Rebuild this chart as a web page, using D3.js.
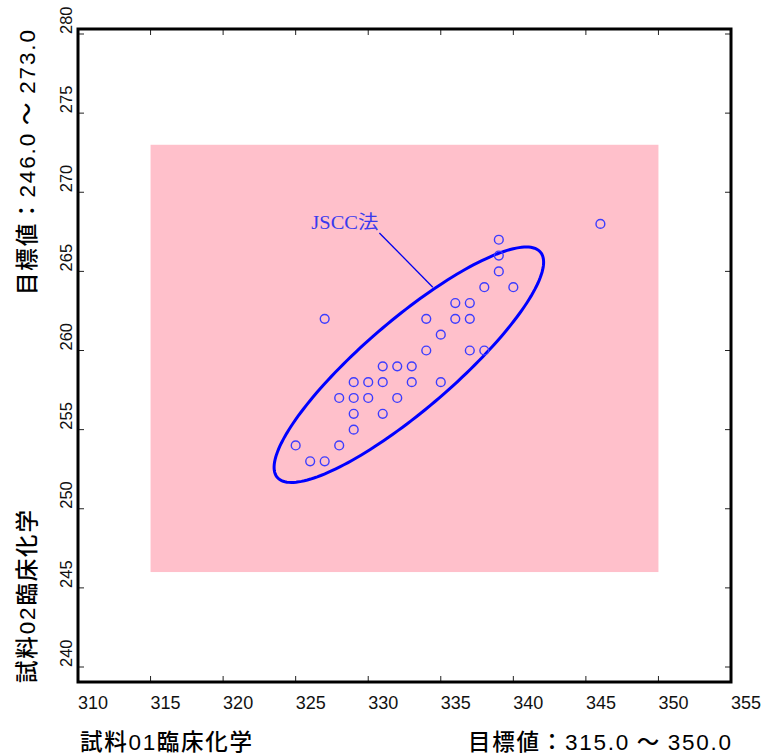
<!DOCTYPE html>
<html>
<head>
<meta charset="utf-8">
<script src="https://cdn.jsdelivr.net/npm/d3@7"></script>
<style>
  html, body { margin: 0; padding: 0; background: #fff; }
  svg { display: block; }
</style>
</head>
<body>
<svg id="chart" width="762" height="755"></svg>
<script>
// Sample 01 (x) vs sample 02 (y) results, clinical chemistry
const sample01 = [339, 339, 339, 338, 340, 336, 337, 327, 334, 336, 337, 335, 334, 337, 338,
                  331, 332, 333, 329, 330, 331, 333, 335, 328, 329, 330, 332, 329, 331, 329,
                  325, 328, 326, 327, 346];
const sample02 = [267, 266, 265, 264, 264, 263, 263, 262, 262, 262, 262, 261, 260, 260, 260,
                  259, 259, 259, 258, 258, 258, 258, 258, 257, 257, 257, 257, 256, 256, 255,
                  254, 254, 253, 253, 268];

// Target ranges
const targetX = [315.0, 350.0];
const targetY = [246.0, 273.0];

// Axis extents and ticks
const xDomain = [310, 355];
const yDomain = [240, 280];
const xTicks = [310, 315, 320, 325, 330, 335, 340, 345, 350, 355];
const yTicks = [240, 245, 250, 255, 260, 265, 270, 275, 280];

// JSCC method ellipse (data units): centre, semi-axes, rotation in degrees
const ellipseCenter = [332.8, 259.1];
const ellipseAxes = [11.53, 2.94];
const ellipseAngle = 37.8;
const ellipseLabel = "JSCC法";
const labelAnchor = [330.7, 267.68];
const leaderFrom = [330.77, 267.43];
const leaderTo = [334.45, 264.0];

const xTitle = "試料01臨床化学";
const yTitle = "試料02臨床化学";

const svg = d3.select("#chart");

// Frame of the plotting area
const frame = { left: 78, right: 731, top: 29, bottom: 682 };

const x = d3.scaleLinear().domain(xDomain).range([78, 731]);
const y = d3.scaleLinear().domain(yDomain).range([667, 34]);

// Target region
svg.append("rect")
  .attr("x", x(targetX[0]))
  .attr("y", y(targetY[1]))
  .attr("width", x(targetX[1]) - x(targetX[0]))
  .attr("height", y(targetY[0]) - y(targetY[1]))
  .attr("fill", "#ffc0cb");

// Ticks, pointing inwards on every side
const tickLen = 6;
const tickG = svg.append("g").attr("stroke", "#222").attr("stroke-width", 1);
xTicks.forEach(v => {
  tickG.append("line").attr("x1", x(v)).attr("x2", x(v))
    .attr("y1", frame.bottom).attr("y2", frame.bottom - tickLen);
  tickG.append("line").attr("x1", x(v)).attr("x2", x(v))
    .attr("y1", frame.top).attr("y2", frame.top + tickLen);
});
yTicks.forEach(v => {
  tickG.append("line").attr("y1", y(v)).attr("y2", y(v))
    .attr("x1", frame.left).attr("x2", frame.left + tickLen);
  tickG.append("line").attr("y1", y(v)).attr("y2", y(v))
    .attr("x1", frame.right).attr("x2", frame.right - tickLen);
});

// Frame
svg.append("rect")
  .attr("x", frame.left).attr("y", frame.top)
  .attr("width", frame.right - frame.left)
  .attr("height", frame.bottom - frame.top)
  .attr("fill", "none").attr("stroke", "#000").attr("stroke-width", 3);

// Tick labels
const narrowFont = "'Liberation Sans Narrow', 'Arial Narrow', 'Liberation Sans', sans-serif";
svg.append("g").selectAll("text").data(xTicks).join("text")
  .attr("x", d => x(d))
  .attr("y", 709)
  .attr("font-family", narrowFont)
  .attr("font-size", 18)
  .attr("fill", "#111")
  .text(d => d);

svg.append("g").selectAll("text").data(yTicks).join("text")
  .attr("transform", d => `translate(72,${y(d)}) rotate(-90)`)
  .attr("font-family", narrowFont)
  .attr("font-size", 16.5)
  .attr("fill", "#111")
  .text(d => d);

// Ellipse for the JSCC method, traced in data space
const th = ellipseAngle * Math.PI / 180;
const ellipsePts = d3.range(0, 361, 2).map(deg => {
  const t = deg * Math.PI / 180;
  const u = ellipseAxes[0] * Math.cos(t), w = ellipseAxes[1] * Math.sin(t);
  return [ellipseCenter[0] + u * Math.cos(th) - w * Math.sin(th),
          ellipseCenter[1] + u * Math.sin(th) + w * Math.cos(th)];
});
svg.append("path")
  .attr("d", d3.line().x(d => x(d[0])).y(d => y(d[1])).curve(d3.curveLinearClosed)(ellipsePts))
  .attr("fill", "none")
  .attr("stroke", "#0000ff")
  .attr("stroke-width", 3);

// Label and leader line
svg.append("line")
  .attr("x1", x(leaderFrom[0])).attr("y1", y(leaderFrom[1]))
  .attr("x2", x(leaderTo[0])).attr("y2", y(leaderTo[1]))
  .attr("stroke", "#0000ee").attr("stroke-width", 1.3);
svg.append("text")
  .attr("x", x(labelAnchor[0])).attr("y", y(labelAnchor[1]))
  .attr("text-anchor", "end")
  .attr("font-family", "'Liberation Serif', 'Noto Sans CJK JP', serif")
  .attr("font-size", 19)
  .attr("textLength", 67).attr("lengthAdjust", "spacingAndGlyphs")
  .attr("fill", "#3a3aee")
  .text(ellipseLabel);

// Data points
svg.append("g").selectAll("circle").data(sample01.map((v, i) => [v, sample02[i]])).join("circle")
  .attr("cx", d => x(d[0]))
  .attr("cy", d => y(d[1]))
  .attr("r", 4.4)
  .attr("fill", "none")
  .attr("stroke", "#3c3cff")
  .attr("stroke-width", 1.4);

// Axis titles: CJK runs in a gothic face, digit runs in a tall narrow face,
// spread out to the full title width
const cjkFont = "'Noto Sans CJK JP', sans-serif";
const fmt = d3.format(".1f");
const rangeText = r => `目標値：${fmt(r[0])} ～ ${fmt(r[1])}`;

function title(sel, str, len) {
  sel.attr("font-size", 22).attr("fill", "#000")
    .attr("textLength", len).attr("lengthAdjust", "spacing");
  str.split(/([0-9.]+)/).filter(s => s.length).forEach(part => {
    const isNum = /^[0-9.]+$/.test(part);
    sel.append("tspan")
      .attr("font-family", isNum ? narrowFont : cjkFont)
      .attr("font-weight", isNum ? 400 : 500)
      .attr("font-size", isNum ? 22.5 : 22.5)
      .text(part);
  });
  return sel;
}

title(svg.append("text").attr("x", 80).attr("y", 750), xTitle, 172);
title(svg.append("text").attr("x", 731).attr("y", 750).attr("text-anchor", "end"),
  rangeText(targetX), 263);

title(svg.append("text").attr("transform", "translate(35,683) rotate(-90)"), yTitle, 173);
title(svg.append("text").attr("transform", "translate(35,295) rotate(-90)"),
  rangeText(targetY), 265);
</script>
</body>
</html>
